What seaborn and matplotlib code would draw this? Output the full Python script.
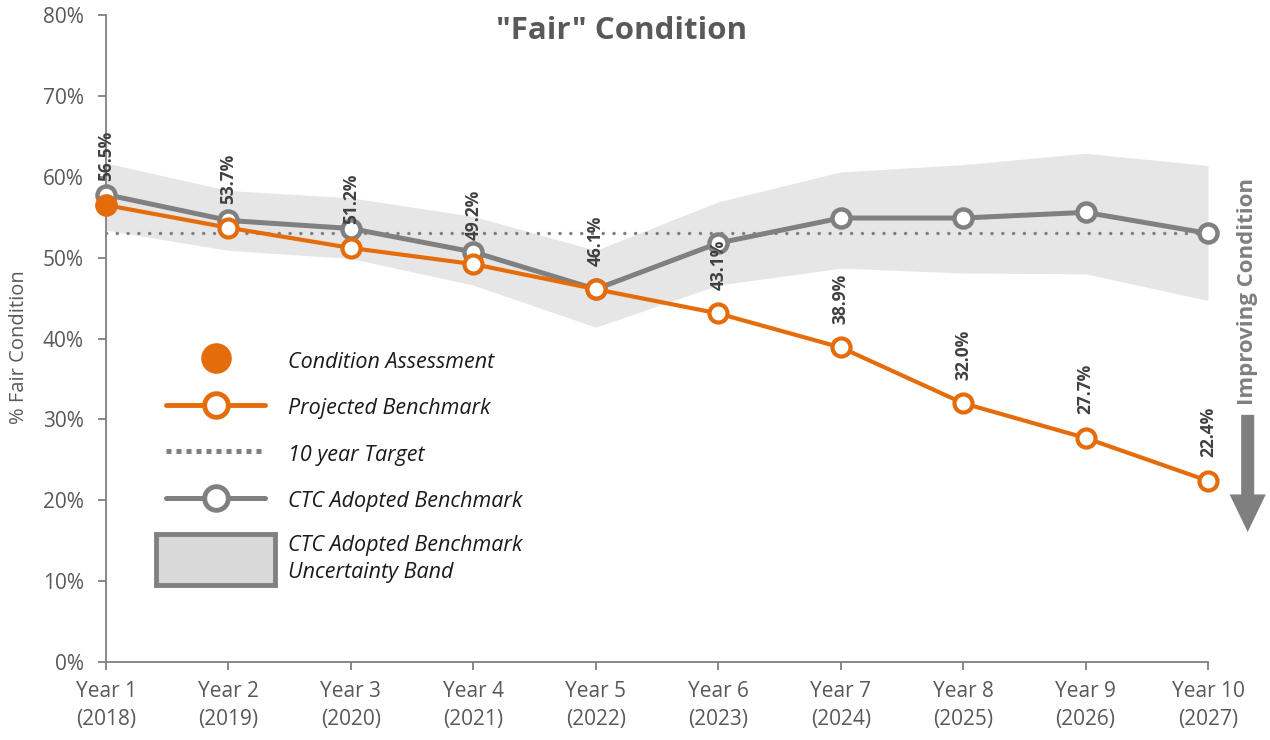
import numpy as np
import pandas as pd
import seaborn as sns
import matplotlib.pyplot as plt
from matplotlib.lines import Line2D
from matplotlib.patches import Rectangle
from matplotlib.legend_handler import HandlerPatch

# values
years = ['Year 1\n(2018)', 'Year 2\n(2019)', 'Year 3\n(2020)', 'Year 4\n(2021)', 'Year 5\n(2022)',
         'Year 6\n(2023)', 'Year 7\n(2024)', 'Year 8\n(2025)', 'Year 9\n(2026)', 'Year 10\n(2027)']
projected = [56.5, 53.7, 51.2, 49.2, 46.1, 43.1, 38.9, 32.0, 27.7, 22.4]
ctc_adopted = [57.8, 54.6, 53.6, 50.7, 46.1, 51.8, 54.9, 54.9, 55.6, 53.0]
band_upper = [61.7, 58.3, 57.4, 55.1, 50.9, 56.9, 60.6, 61.5, 62.9, 61.4]
band_lower = [53.4, 50.9, 49.9, 46.6, 41.4, 46.6, 48.7, 48.1, 48.0, 44.7]
target = 53.0
assessment_year = 0
assessment_value = 56.5

ORANGE = '#e46c0a'
GRAY = '#808080'
BAND = '#e6e6e6'
TXT = '#595959'

df = pd.DataFrame({'pos': np.arange(len(years)), 'projected': projected, 'ctc': ctc_adopted,
                   'upper': band_upper, 'lower': band_lower})

sns.set_style('white')
plt.rcParams['font.family'] = ['Open Sans', 'DejaVu Sans']

fig = plt.figure(figsize=(12.7, 7.4), dpi=100)
ax = fig.add_axes([0.0835, 0.1054, 0.8677, 0.8743])

ax.fill_between(df['pos'], df['lower'], df['upper'], color=BAND, lw=0, zorder=1)
ax.axhline(target, color=GRAY, lw=2.5, linestyle=(0, (0.01, 3.1)), dash_capstyle='round', zorder=2)

sns.lineplot(data=df, x='pos', y='ctc', ax=ax, color=GRAY, lw=3.6, marker='o', ms=13,
             markerfacecolor='white', markeredgecolor=GRAY, markeredgewidth=3.2,
             clip_on=False, zorder=3)
sns.lineplot(data=df, x='pos', y='projected', ax=ax, color=ORANGE, lw=3, marker='o', ms=13,
             markerfacecolor='white', markeredgecolor=ORANGE, markeredgewidth=3,
             clip_on=False, zorder=4)
ax.plot([assessment_year], [assessment_value], 'o', color=ORANGE, ms=15, mec=ORANGE,
        clip_on=False, zorder=5)

for x, v in zip(df['pos'], projected):
    ax.annotate(f'{v:.1f}%', (x, v), xytext=(0, 17), textcoords='offset points',
                rotation=90, ha='center', va='bottom', fontsize=12.5, fontweight='bold',
                color='#404040', zorder=6)

ax.set_xlim(0, len(years) - 1)
ax.set_ylim(0, 80)
ax.set_xticks(df['pos'])
ax.set_xticklabels(years, linespacing=1.4)
ax.set_yticks(range(0, 81, 10))
ax.set_yticklabels([f'{t}%' for t in range(0, 81, 10)])
ax.tick_params(axis='both', colors=GRAY, labelcolor=TXT, length=6, width=1.3,
               direction='out', left=True, bottom=True)
ax.tick_params(axis='x', labelsize=15, pad=8)
ax.tick_params(axis='y', labelsize=15, pad=10)
for s in ['top', 'right']:
    ax.spines[s].set_visible(False)
for s in ['left', 'bottom']:
    ax.spines[s].set_color(GRAY)
    ax.spines[s].set_linewidth(1.3)
ax.set_xlabel('')
ax.set_ylabel('% Fair Condition', fontsize=14.5, color=TXT)
ax.yaxis.set_label_coords(-0.07, 0.487)

ax.text(0.468, 0.975, '"Fair" Condition', transform=ax.transAxes, ha='center', va='center',
        fontsize=22.5, fontweight='bold', color=TXT)

# improving condition arrow on the right
ax.annotate('', xy=(1.036, 0.201), xytext=(1.036, 0.382), xycoords='axes fraction',
            arrowprops=dict(facecolor='#7f7f7f', edgecolor='none', width=9.4,
                            headwidth=26, headlength=27), annotation_clip=False)
ax.text(1.036, 0.572, 'Improving Condition', transform=ax.transAxes, rotation=90,
        ha='center', va='center', fontsize=16, fontweight='bold', color='#7f7f7f')


def big_box(legend, orig_handle, xdescent, ydescent, width, height, fontsize):
    w, h = width + 14, 37
    return Rectangle((-xdescent - 7, -ydescent + height / 2 - h / 2), w, h)


handles = [
    Line2D([], [], ls='none', marker='o', ms=21, color=ORANGE),
    Line2D([], [], color=ORANGE, lw=3.5, marker='o', ms=17, mfc='white', mec=ORANGE, mew=3.5),
    Line2D([], [], color=GRAY, lw=3.6, linestyle=(0, (1, 1))),
    Line2D([], [], color=GRAY, lw=3.6, marker='o', ms=17, mfc='white', mec=GRAY, mew=3.5),
    Rectangle((0, 0), 1, 1, facecolor='#d9d9d9', edgecolor=GRAY, lw=3.5),
]
labels = ['Condition Assessment', 'Projected Benchmark', '10 year Target',
          'CTC Adopted Benchmark', 'CTC Adopted Benchmark\nUncertainty Band']
leg = ax.legend(handles, labels, loc='upper left', bbox_to_anchor=(0.037, 0.514), frameon=False,
                handlelength=4.6, handleheight=1.3, labelspacing=1.05, handletextpad=1.05,
                prop={'family': ['Open Sans'], 'style': 'italic', 'size': 15.5},
                handler_map={Rectangle: HandlerPatch(patch_func=big_box)})
for t in leg.get_texts():
    t.set_color('#1a1a1a')
    t.set_linespacing(1.35)

fig.savefig('out.png', dpi=100)
